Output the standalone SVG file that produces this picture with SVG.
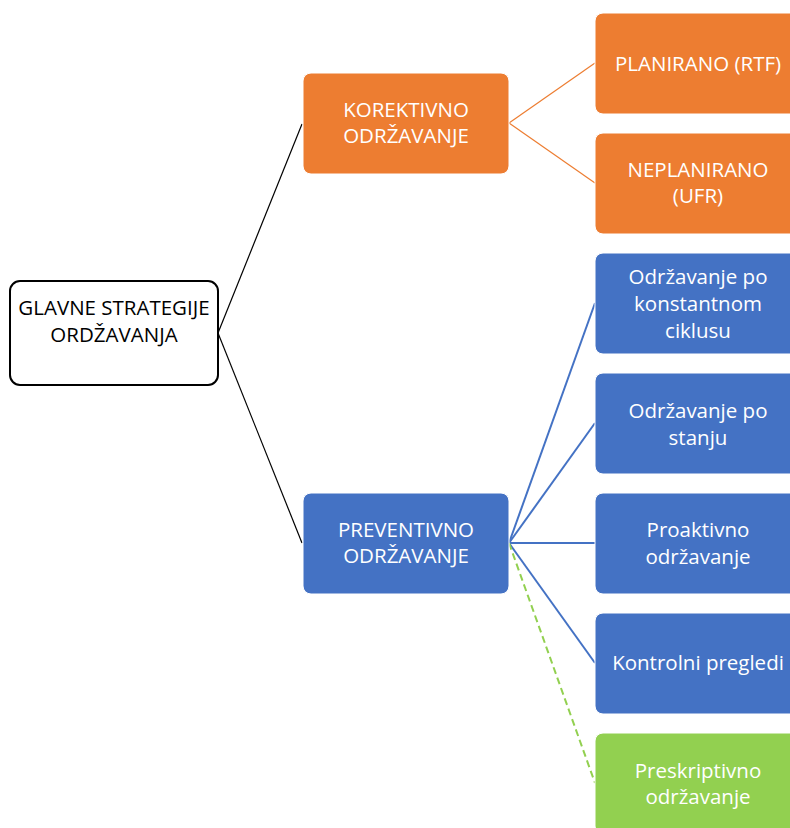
<svg xmlns="http://www.w3.org/2000/svg" width="790" height="828" viewBox="0 0 790 828">
<style>
.t{font-family:"Open Sans","Liberation Sans",sans-serif;font-size:20.5px;text-anchor:middle}
.w{fill:#fff}
.k{fill:#000}
.or{fill:#ED7D31;stroke:#fff;stroke-width:1}
.bl{fill:#4472C4;stroke:#fff;stroke-width:1}
.gr{fill:#92D050;stroke:#fff;stroke-width:1}
</style>
<rect width="790" height="828" fill="#fff"/>
<g id="connectors" fill="none">
<line x1="218" y1="333" x2="302" y2="124" stroke="#000" stroke-width="1.2"/>
<line x1="218" y1="333" x2="302" y2="543" stroke="#000" stroke-width="1.2"/>
<line x1="509" y1="123" x2="595" y2="63" stroke="#ED7D31" stroke-width="1.2"/>
<line x1="509" y1="123" x2="595" y2="183" stroke="#ED7D31" stroke-width="1.2"/>
<line x1="509" y1="543" x2="595" y2="303" stroke="#4472C4" stroke-width="2"/>
<line x1="509" y1="543" x2="595" y2="423" stroke="#4472C4" stroke-width="2"/>
<line x1="509" y1="543" x2="595" y2="543" stroke="#4472C4" stroke-width="2"/>
<line x1="509" y1="543" x2="595" y2="663" stroke="#4472C4" stroke-width="2"/>
<line x1="509" y1="543" x2="595" y2="783" stroke="#92D050" stroke-width="2" stroke-dasharray="7,4"/>
</g>
<g id="root">
<rect x="10" y="281" width="208" height="104" rx="10" fill="#fff" stroke="#000" stroke-width="2"/>
<text class="t k" x="114" y="315">GLAVNE STRATEGIJE</text>
<text class="t k" x="114" y="342">ORDŽAVANJA</text>
</g>
<g id="korektivno">
<rect class="or" x="303" y="73" width="206" height="101" rx="8"/>
<text class="t w" x="406" y="117">KOREKTIVNO</text>
<text class="t w" x="406" y="143">ODRŽAVANJE</text>
</g>
<g id="preventivno">
<rect class="bl" x="303" y="493" width="206" height="101" rx="8"/>
<text class="t w" x="406" y="537">PREVENTIVNO</text>
<text class="t w" x="406" y="563">ODRŽAVANJE</text>
</g>
<g id="planirano">
<rect class="or" x="595" y="13" width="210" height="101" rx="8"/>
<text class="t w" x="698" y="71">PLANIRANO (RTF)</text>
</g>
<g id="neplanirano">
<rect class="or" x="595" y="133" width="210" height="101" rx="8"/>
<text class="t w" x="698" y="177">NEPLANIRANO</text>
<text class="t w" x="698" y="203">(UFR)</text>
</g>
<g id="konstantni">
<rect class="bl" x="595" y="253" width="210" height="101" rx="8"/>
<text class="t w" x="698" y="284">Održavanje po</text>
<text class="t w" x="698" y="311">konstantnom</text>
<text class="t w" x="698" y="338">ciklusu</text>
</g>
<g id="stanje">
<rect class="bl" x="595" y="373" width="210" height="101" rx="8"/>
<text class="t w" x="698" y="418">Održavanje po</text>
<text class="t w" x="698" y="445">stanju</text>
</g>
<g id="proaktivno">
<rect class="bl" x="595" y="493" width="210" height="101" rx="8"/>
<text class="t w" x="698" y="537">Proaktivno</text>
<text class="t w" x="698" y="564">održavanje</text>
</g>
<g id="kontrolni">
<rect class="bl" x="595" y="613" width="210" height="101" rx="8"/>
<text class="t w" x="698" y="670">Kontrolni pregledi</text>
</g>
<g id="preskriptivno">
<rect class="gr" x="595" y="733" width="210" height="101" rx="8"/>
<text class="t w" x="698" y="778">Preskriptivno</text>
<text class="t w" x="698" y="804">održavanje</text>
</g>
</svg>
